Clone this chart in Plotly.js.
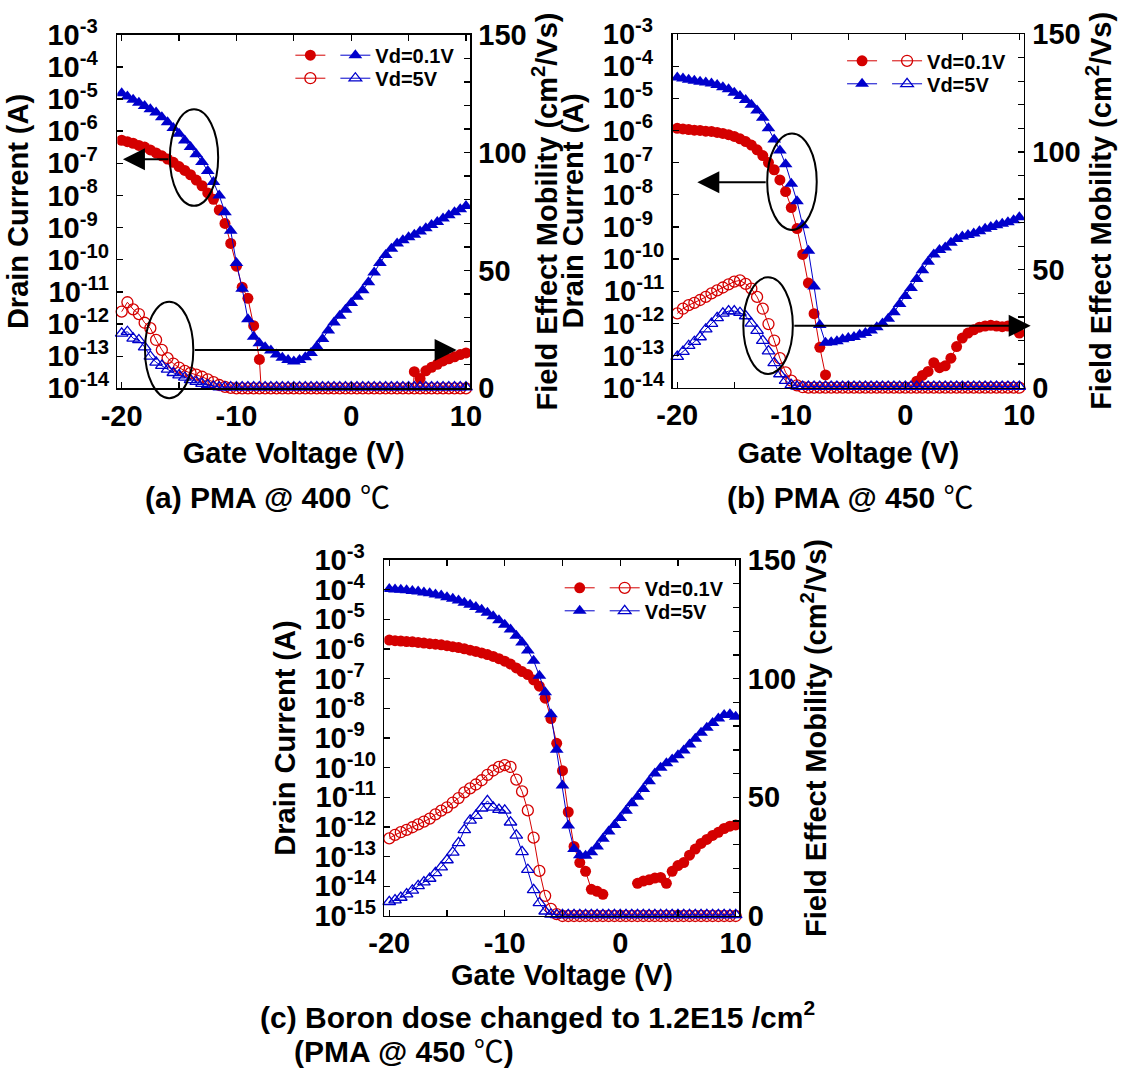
<!DOCTYPE html>
<html>
<head>
<meta charset="utf-8">
<script src="https://cdn.plot.ly/plotly-3.0.1.min.js"></script>
<style>html,body{margin:0;padding:0;background:#fff;}#chart{width:1125px;height:1073px;}</style>
</head>
<body>
<div id="chart"></div>
<script>
// Gate voltage (V)
const gateV = [-20,-19.5,-19,-18.5,-18,-17.5,-17,-16.5,-16,-15.5,-15,-14.5,-14,-13.5,-13,-12.5,-12,-11.5,-11,-10.5,-10,-9.5,-9,-8.5,-8,-7.5,-7,-6.5,-6,-5.5,-5,-4.5,-4,-3.5,-3,-2.5,-2,-1.5,-1,-0.5,0,0.5,1,1.5,2,2.5,3,3.5,4,4.5,5,5.5,6,6.5,7,7.5,8,8.5,9,9.5,10];

// ---------- (a) PMA @ 400 C ----------
const a_Id_Vd5 = [1.5e-5,1.2e-5,9.5e-6,7.6e-6,6.0e-6,4.8e-6,3.8e-6,2.7e-6,1.9e-6,1.26e-6,8.3e-7,5.1e-7,3.2e-7,1.9e-7,1.1e-7,5.8e-8,2.6e-8,1.0e-8,3.0e-9,7.9e-10,7.9e-11,1.26e-11,1.4e-12,4.0e-13,2.5e-13,1.9e-13,1.5e-13,1.12e-13,8.9e-14,7.6e-14,6.8e-14,7.6e-14,9.3e-14,1.26e-13,2.0e-13,3.4e-13,6.3e-13,1.12e-12,1.8e-12,2.8e-12,4.5e-12,7.1e-12,1.12e-11,2.0e-11,4.0e-11,7.9e-11,1.4e-10,2.2e-10,3.2e-10,4.0e-10,5.0e-10,6.0e-10,7.6e-10,9.5e-10,1.2e-9,1.5e-9,1.9e-9,2.4e-9,3.0e-9,3.7e-9,4.7e-9];
const a_Id_Vd01 = [5.2e-7,4.7e-7,4.2e-7,3.6e-7,3.2e-7,2.6e-7,2.1e-7,1.7e-7,1.35e-7,1.07e-7,7.9e-8,6.0e-8,4.4e-8,3.0e-8,2.0e-8,1.2e-8,7.6e-9,3.5e-9,1.35e-9,3.2e-10,6.3e-11,1.4e-11,6.3e-12,8.9e-13,7.9e-14,1e-16,null,null,null,null,null,null,null,null,null,null,null,null,null,null,null,null,null,null,null,null,null,null,null,null,1e-16,3.3e-14,2.0e-14,3.5e-14,4.5e-14,5.6e-14,7.1e-14,8.3e-14,9.5e-14,1.12e-13,1.26e-13];
const a_Mob_Vd01 = [32.5,36.5,33.5,31.5,27.8,25.5,20.5,16.3,12.8,10.5,8.8,7.4,6.5,5.8,4.9,3.8,2.6,1.4,0.6,0.2,0,0,0,0,0,0,0,0,0,0,0,0,0,0,0,0,0,0,0,0,0,0,0,0,0,0,0,0,0,0,0,0,0,0,0,0,0,0,0,0,0];
const a_Mob_Vd5 = [23.3,24.0,21.2,20.5,17.5,13.5,11.0,9.6,8.0,6.6,5.6,4.6,3.6,2.8,2.0,1.4,0.8,0.5,0.5,0.5,0.5,0.5,0.5,0.5,0.5,0.5,0.5,0.5,0.5,0.5,0.5,0.5,0.5,0.5,0.5,0.5,0.5,0.5,0.5,0.5,0.5,0.5,0.5,0.5,0.5,0.5,0.5,0.5,0.5,0.5,0.5,0.5,0.5,0.5,0.5,0.5,0.5,0.5,0.5,0.5,0.5];

// ---------- (b) PMA @ 450 C ----------
const b_Id_Vd5 = [4.4e-5,4.1e-5,3.8e-5,3.5e-5,3.3e-5,3.1e-5,2.9e-5,2.6e-5,2.2e-5,1.9e-5,1.5e-5,1.17e-5,8.9e-6,6.3e-6,4.2e-6,2.5e-6,1.17e-6,5.2e-7,2.4e-7,8.9e-8,2.2e-8,6.3e-9,1.12e-9,1.8e-10,1.4e-11,8.9e-13,2.5e-13,2.6e-13,2.8e-13,3.2e-13,3.5e-13,3.8e-13,4.4e-13,5.0e-13,6.0e-13,7.6e-13,1.0e-12,1.4e-12,2.2e-12,4.0e-12,7.1e-12,1.26e-11,2.4e-11,4.5e-11,8.3e-11,1.4e-10,1.9e-10,2.3e-10,3.2e-10,4.2e-10,5.0e-10,5.6e-10,6.3e-10,7.4e-10,8.7e-10,1.0e-9,1.12e-9,1.26e-9,1.4e-9,1.6e-9,2.0e-9];
const b_Id_Vd01 = [1.17e-6,1.12e-6,1.07e-6,1.02e-6,1.0e-6,9.5e-7,9.3e-7,8.7e-7,8.1e-7,7.4e-7,6.5e-7,5.5e-7,4.5e-7,3.5e-7,2.5e-7,1.66e-7,1.0e-7,6.0e-8,2.9e-8,1.26e-8,4.0e-9,8.9e-10,1.4e-10,1.8e-11,2.0e-12,1.8e-13,2.5e-14,null,null,null,null,null,null,null,null,null,null,null,null,null,null,null,1.6e-14,2.4e-14,3.2e-14,6.0e-14,4.2e-14,4.8e-14,8.3e-14,1.9e-13,3.5e-13,5.0e-13,6.3e-13,7.6e-13,8.3e-13,8.7e-13,8.3e-13,7.9e-13,8.3e-13,7.9e-13,5.0e-13];
const b_Mob_Vd01 = [31.5,33.5,35,36,37.2,38.5,40,41.3,42.5,43.8,45,45.5,44,42,38.5,33.5,27,20,12.5,6.5,3,1,0.2,0,0,0,0,0,0,0,0,0,0,0,0,0,0,0,0,0,0,0,0,0,0,0,0,0,0,0,0,0,0,0,0,0,0,0,0,0,0];
const b_Mob_Vd5 = [13.2,15.3,17.8,19.5,21.5,24.8,27.2,29.6,31.5,32.5,32.5,31.8,30.4,27.3,24.2,20,15.5,10.5,5.8,3.0,1.2,0.6,0.5,0.5,0.5,0.5,0.5,0.5,0.5,0.5,0.5,0.5,0.5,0.5,0.5,0.5,0.5,0.5,0.5,0.5,0.5,0.5,0.5,0.5,0.5,0.5,0.5,0.5,0.5,0.5,0.5,0.5,0.5,0.5,0.5,0.5,0.5,0.5,0.5,0.5,0.5];

// ---------- (c) Boron dose 1.2E15 /cm2, PMA @ 450 C ----------
const c_Id_Vd5 = [1.05e-4,1.02e-4,1.0e-4,9.5e-5,9.1e-5,8.7e-5,8.1e-5,7.6e-5,6.9e-5,6.3e-5,5.6e-5,4.9e-5,4.3e-5,3.6e-5,3.1e-5,2.6e-5,2.1e-5,1.66e-5,1.26e-5,9.3e-6,6.6e-6,4.5e-6,2.8e-6,1.66e-6,8.9e-7,4.0e-7,1.26e-7,3.5e-8,6.3e-9,4.0e-10,2.5e-11,1.12e-12,1.8e-13,1.12e-13,1.07e-13,1.4e-13,2.2e-13,4.0e-13,7.1e-13,1.17e-12,2.0e-12,3.5e-12,6.3e-12,1.05e-11,1.9e-11,3.5e-11,6.3e-11,1.0e-10,1.4e-10,1.9e-10,2.6e-10,3.8e-10,6.0e-10,9.5e-10,1.5e-9,2.2e-9,3.2e-9,4.5e-9,6.0e-9,6.3e-9,5.2e-9];
const c_Id_Vd01 = [2.0e-6,1.9e-6,1.86e-6,1.78e-6,1.74e-6,1.66e-6,1.58e-6,1.51e-6,1.45e-6,1.38e-6,1.29e-6,1.2e-6,1.12e-6,1.02e-6,9.1e-7,8.3e-7,7.4e-7,6.5e-7,5.6e-7,4.7e-7,3.9e-7,3.1e-7,2.3e-7,1.74e-7,1.38e-7,9.1e-8,5.6e-8,2.2e-8,4.5e-9,6.6e-10,7.9e-11,3.2e-12,2.2e-13,6.3e-14,3.2e-14,7.9e-15,6.8e-15,5.4e-15,null,null,null,null,null,1.26e-14,1.5e-14,1.66e-14,1.9e-14,2.0e-14,1.26e-14,3.2e-14,5.0e-14,6.3e-14,1.12e-13,1.8e-13,2.8e-13,3.8e-13,5.2e-13,6.6e-13,8.9e-13,1.07e-12,1.17e-12];
const c_Mob_Vd01 = [32.7,34.2,35.3,36.3,37.4,38.6,39.8,41.0,42.8,44.4,45.8,47.8,49.7,52.1,53.8,55.4,57.2,59.5,61.3,62.8,63.6,62.8,57.5,52.5,44.5,33,19,8.5,3,0.8,0,0,0,0,0,0,0,0,0,0,0,0,0,0,0,0,0,0,0,0,0,0,0,0,0,0,0,0,0,0,0];
const c_Mob_Vd5 = [6.0,6.7,7.8,9.2,10.8,12.7,14.3,15.8,18.2,20.6,23.6,26.8,30.8,36.3,40.3,42.3,45.4,48.5,45.8,44.8,44.5,39.5,34,27,19.5,11,5.5,2.0,0.7,0.5,0.5,0.5,0.5,0.5,0.5,0.5,0.5,0.5,0.5,0.5,0.5,0.5,0.5,0.5,0.5,0.5,0.5,0.5,0.5,0.5,0.5,0.5,0.5,0.5,0.5,0.5,0.5,0.5,0.5,0.5,0.5];

// Axis tick labels
const xTickVals = [-20,-10,0,10];
const xTickText = ['-20','-10','0','10'];
const logTickVals15 = [1e-3,1e-4,1e-5,1e-6,1e-7,1e-8,1e-9,1e-10,1e-11,1e-12,1e-13,1e-14,1e-15];
const logExp15 = ['-3','-4','-5','-6','-7','-8','-9','-10','-11','-12','-13','-14','-15'];
const mobTickVals = [0,50,100,150];
const mobTickText = ['0','50','100','150'];

const FONT = "'Liberation Sans', Arial, 'Noto Sans CJK SC', sans-serif";
const RED = '#d40000', BLUE = '#0000cc';

function logText(n){
  return logExp15.slice(0,n).map(e => '10<sup>' + e + (e.length === 2 ? '\u2007' : '') + '</sup>');
}

function curTrace(x, y, xa, ya, color, sym, name, legend){
  return {x:x, y:y, xaxis:xa, yaxis:ya, type:'scatter', mode:'lines+markers', cliponaxis:true,
    line:{color:color, width:1}, marker:{symbol:sym, size: sym.indexOf('triangle')>=0 ? 12 : 11, color:color},
    name:name, legend:legend, showlegend:true, connectgaps:false};
}
function mobTrace(x, y, xa, ya, color, sym, name, legend){
  return {x:x, y:y, xaxis:xa, yaxis:ya, type:'scatter', mode:'lines+markers', cliponaxis:false,
    line:{color:color, width:1}, marker:{symbol:sym, size:11, color:color, line:{color:color, width:1.3}},
    name:name, legend:legend, showlegend:true};
}

const data = [
  // (a)
  curTrace(gateV, a_Id_Vd01, 'x', 'y', RED, 'circle', '', 'legend'),
  curTrace(gateV, a_Id_Vd5, 'x', 'y', BLUE, 'triangle-up', 'Vd=0.1V', 'legend'),
  mobTrace(gateV, a_Mob_Vd01, 'x', 'y2', RED, 'circle-open', '', 'legend2'),
  mobTrace(gateV, a_Mob_Vd5, 'x', 'y2', BLUE, 'triangle-up-open', 'Vd=5V', 'legend2'),
  // (b)
  curTrace(gateV, b_Id_Vd01, 'x2', 'y3', RED, 'circle', '', 'legend3'),
  mobTrace(gateV, b_Mob_Vd01, 'x2', 'y4', RED, 'circle-open', 'Vd=0.1V', 'legend3'),
  curTrace(gateV, b_Id_Vd5, 'x2', 'y3', BLUE, 'triangle-up', '', 'legend4'),
  mobTrace(gateV, b_Mob_Vd5, 'x2', 'y4', BLUE, 'triangle-up-open', 'Vd=5V', 'legend4'),
  // (c)
  curTrace(gateV, c_Id_Vd01, 'x3', 'y5', RED, 'circle', '', 'legend5'),
  mobTrace(gateV, c_Mob_Vd01, 'x3', 'y6', RED, 'circle-open', 'Vd=0.1V', 'legend5'),
  curTrace(gateV, c_Id_Vd5, 'x3', 'y5', BLUE, 'triangle-up', '', 'legend6'),
  mobTrace(gateV, c_Mob_Vd5, 'x3', 'y6', BLUE, 'triangle-up-open', 'Vd=5V', 'legend6')
];

const tickFont = {family:FONT, size:29, color:'#000', weight:'bold'};
const titleFont = {family:FONT, size:29, color:'#000', weight:'bold'};
const minorX = {dtick:5, tick0:0, ticks:'inside', ticklen:6, tickwidth:1.3, tickcolor:'#000', showgrid:false};
const minorMob = {dtick:10, tick0:0, ticks:'inside', ticklen:6, tickwidth:1.3, tickcolor:'#000', showgrid:false};

function xAxis(domain, anchor, range, standoff){
  return {domain:domain, anchor:anchor, range:range, tickvals:xTickVals, ticktext:xTickText, minor:minorX,
    ticks:'inside', ticklen:6, tickwidth:1.3, tickcolor:'#000', showline:true, linecolor:'#000', linewidth:1.5,
    mirror:'ticks', showgrid:false, zeroline:false, tickfont:tickFont, ticklabelstandoff:1,
    title:{text:'Gate Voltage (V)', font:titleFont, standoff:standoff}, fixedrange:true};
}
function yLog(domain, anchor, range, n){
  return {domain:domain, anchor:anchor, type:'log', range:range, tickvals:logTickVals15.slice(0,n), ticktext:logText(n),
    ticks:'inside', ticklen:6, tickwidth:1.3, tickcolor:'#000', showline:true, linecolor:'#000', linewidth:1.5,
    mirror:false, showgrid:false, zeroline:false, tickfont:tickFont, ticklabelstandoff:1,
    title:{text:'Drain Current (A)', font:titleFont, standoff:10}, fixedrange:true};
}
function yMob(overlay, anchor){
  return {overlaying:overlay, anchor:anchor, side:'right', range:[0,150], tickvals:mobTickVals, ticktext:mobTickText, minor:minorMob,
    ticks:'inside', ticklen:6, tickwidth:1.3, tickcolor:'#000', showline:true, linecolor:'#000', linewidth:1.5,
    showgrid:false, zeroline:false, tickfont:tickFont, ticklabelstandoff:1,
    title:{text:'Field Effect Mobility (cm<sup>2</sup>/Vs)', font:titleFont, standoff:8}, fixedrange:true};
}
function legendAt(x, y){
  return {x:x, y:y, xanchor:'left', yanchor:'top', orientation:'h', bgcolor:'rgba(0,0,0,0)', borderwidth:0,
    font:{family:FONT, size:20, color:'#000', weight:'bold'}, itemwidth:30, itemclick:false, itemdoubleclick:false};
}
function ellipse(xr, yr, x0, x1, y0, y1){
  return {type:'circle', xref:xr, yref:yr, x0:x0, x1:x1, y0:y0, y1:y1, line:{color:'#000', width:2}, layer:'above'};
}
function arrow(xr, yr, tx, ty, hx, hy){
  return {xref:xr, yref:yr, axref:xr, ayref:yr, x:hx, y:hy, ax:tx, ay:ty, text:'', showarrow:true,
    arrowhead:2, arrowsize:2.2, arrowwidth:2, arrowcolor:'#000', standoff:0, startstandoff:0};
}
function caption(text, x, y){
  return {xref:'paper', yref:'paper', x:x, y:y, xanchor:'center', yanchor:'middle', showarrow:false, text:text,
    font:{family:FONT, size:30, color:'#000', weight:'bold'}};
}
const DEG = '<span style="font-weight:normal">\u2103</span>';

const layout = {
  width:1125, height:1073, margin:{l:0, r:0, t:0, b:0}, paper_bgcolor:'#fff', plot_bgcolor:'rgba(0,0,0,0)',
  showlegend:true,
  xaxis: xAxis([0.10427,0.41778], 'y', [-20.38,10.35], 12),
  yaxis: yLog([0.63812,0.96766], 'x', [-14,-3], 12),
  yaxis2: yMob('y', 'x'),
  xaxis2: xAxis([0.59796,0.91022], 'y3', [-20.4,10.41], 12),
  yaxis3: yLog([0.63868,0.96831], 'x2', [-14,-3], 12),
  yaxis4: yMob('y3', 'x2'),
  xaxis3: xAxis([0.3416,0.65733], 'y5', [-20.43,10.33], 0),
  yaxis5: yLog([0.14632,0.4781], 'x3', [-15,-3], 13),
  yaxis6: yMob('y5', 'x3'),
  legend: legendAt(0.2581, 0.96673),
  legend2: legendAt(0.2581, 0.94529),
  legend3: legendAt(0.7485, 0.96151),
  legend4: legendAt(0.7485, 0.94008),
  legend5: legendAt(0.4975, 0.47036),
  legend6: legendAt(0.4975, 0.44893),
  shapes: [
    ellipse('x domain', 'y domain', 0.149, 0.286, 0.516, 0.789),
    ellipse('x domain', 'y domain', 0.0785, 0.2155, -0.028, 0.245),
    ellipse('x2 domain', 'y3 domain', 0.269, 0.410, 0.446, 0.719),
    ellipse('x2 domain', 'y3 domain', 0.201, 0.342, 0.039, 0.312)
  ],
  annotations: [
    arrow('x domain', 'y domain', 0.149, 0.648, 0.0159, 0.648),
    arrow('x domain', 'y domain', 0.2155, 0.108, 0.962, 0.108),
    arrow('x2 domain', 'y3 domain', 0.269, 0.581, 0.070, 0.581),
    arrow('x2 domain', 'y3 domain', 0.342, 0.175, 1.019, 0.175),
    caption('(a) PMA @ 400 ' + DEG, 0.2382, 0.5368),
    caption('(b) PMA @ 450 ' + DEG, 0.7564, 0.5368),
    caption('(c) Boron dose changed to 1.2E15 /cm<sup>2</sup>', 0.4782, 0.05405),
    caption('(PMA @ 450 ' + DEG + ')', 0.3591, 0.01985)
  ]
};

Plotly.newPlot('chart', data, layout, {staticPlot:true, displayModeBar:false});
</script>
</body>
</html>
